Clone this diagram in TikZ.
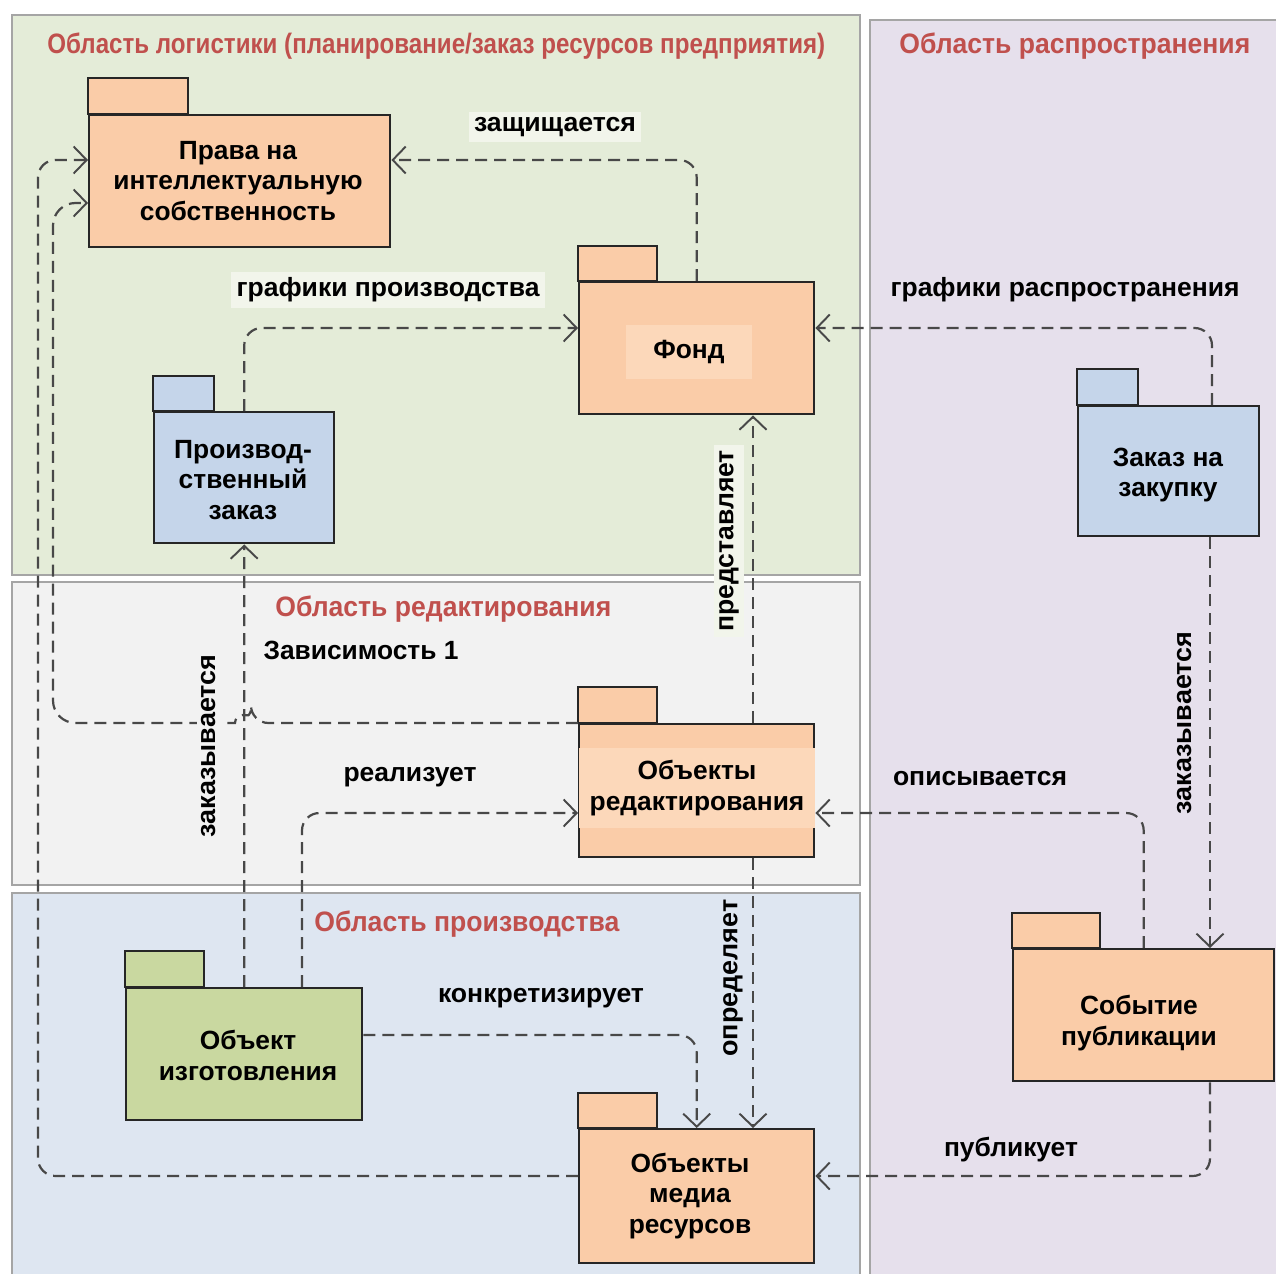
\documentclass[tikz,border=0pt]{standalone}
\usepackage{fontspec}
\setmainfont{Liberation Sans}
\usepackage{graphicx}
\usetikzlibrary{arrows.meta,calc}
\definecolor{logbg}{RGB}{228,236,216}
\definecolor{edbg}{RGB}{242,242,242}
\definecolor{prbg}{RGB}{222,230,241}
\definecolor{dsbg}{RGB}{230,224,236}
\definecolor{regline}{RGB}{165,165,165}
\definecolor{pkgor}{RGB}{250,204,168}
\definecolor{pkgorlt}{RGB}{252,216,186}
\definecolor{pkgbl}{RGB}{197,213,234}
\definecolor{pkggr}{RGB}{201,216,160}
\definecolor{titlered}{RGB}{192,80,77}
\definecolor{depc}{RGB}{72,72,72}
\newcommand\fitw[2]{\resizebox{#1}{\height}{#2}}
\begin{document}
\begin{tikzpicture}[x=0.02cm,y=-0.02cm,
  region/.style={draw=regline,line width=1.4pt},
  pkg/.style={draw=black!85,line width=1.4pt,anchor=north west,inner sep=0pt},
  tabbox/.style={draw=black!85,line width=1.4pt},
  ptext/.style={align=center,font=\bfseries\fontsize{15}{17.6}\selectfont,inner sep=1pt},
  title/.style={text=titlered,font=\bfseries\fontsize{16}{18}\selectfont,inner sep=0pt,anchor=west},
  lbl/.style={font=\bfseries\fontsize{15}{17}\selectfont,inner sep=3pt},
  depline/.style={draw=depc,line width=1.25pt,dash pattern=on 0.24cm off 0.14cm,rounded corners=0.35cm,
    -{Straight Barb[length=2.6mm,width=5.4mm,line width=1.1pt]}},
]
\clip (0,0) rectangle (1276,1274);
\fill[white] (0,0) rectangle (1276,1274);
% regions
\filldraw[region,fill=logbg] (12,15) rectangle (860,575);
\filldraw[region,fill=edbg] (12,582) rectangle (860,885);
\filldraw[region,fill=prbg] (12,893) rectangle (860,1300);
\filldraw[region,fill=dsbg] (870,20) rectangle (1300,1300);
\node[title] (tlog) at (47,46) {\fitw{15.56cm}{Область логистики (планирование/заказ ресурсов предприятия)}};
\node[title] (tdis) at (899,46) {\fitw{7.02cm}{Область распространения}};
\node[title] (ted) at (275,609) {\fitw{6.72cm}{Область редактирования}};
\node[title] (tpr) at (314,924) {\fitw{6.10cm}{Область производства}};
% packages
\node[pkg,fill=pkgor,minimum width=6.02cm,minimum height=2.64cm] (ip) at (88,114) {};
\draw[tabbox,fill=pkgor] (ip.north west) rectangle ++(100,-36);
\node[ptext] (ipT) at (238,181) {Права на\\интеллектуальную\\собственность};

\node[pkg,fill=pkgor,minimum width=4.70cm,minimum height=2.64cm] (fund) at (578,281) {};
\draw[tabbox,fill=pkgor] (fund.north west) rectangle ++(79,-35);
\node[ptext,fill=pkgorlt,minimum width=2.52cm,minimum height=1.08cm] (fundT) at (689,352) {Фонд};

\node[pkg,fill=pkgbl,minimum width=3.60cm,minimum height=2.62cm] (po) at (153,411) {};
\draw[tabbox,fill=pkgbl] (po.north west) rectangle ++(61,-35);
\node[ptext] (poT) at (243,480) {Производ-\\ственный\\заказ};

\node[pkg,fill=pkgbl,minimum width=3.62cm,minimum height=2.60cm] (pur) at (1077,405) {};
\draw[tabbox,fill=pkgbl] (pur.north west) rectangle ++(61,-36);
\node[ptext] (purT) at (1168,475) {Заказ на\\закупку};

\node[pkg,fill=pkgor,minimum width=4.70cm,minimum height=2.66cm] (ed) at (578,723) {};
\draw[tabbox,fill=pkgor] (ed.north west) rectangle ++(79,-36);
\node[ptext,fill=pkgorlt,minimum width=4.72cm,minimum height=1.62cm] (edT) at (697,788) {Объекты\\редактирования};

\node[pkg,fill=pkggr,minimum width=4.72cm,minimum height=2.64cm] (mo) at (125,987) {};
\draw[tabbox,fill=pkggr] (mo.north west) rectangle ++(79,-36);
\node[ptext] (moT) at (248,1055) {Объект\\изготовления};

\node[pkg,fill=pkgor,minimum width=5.22cm,minimum height=2.64cm] (pe) at (1012,948) {};
\draw[tabbox,fill=pkgor] (pe.north west) rectangle ++(88,-35);
\node[ptext] (peT) at (1139,1023) {Событие\\публикации};

\node[pkg,fill=pkgor,minimum width=4.70cm,minimum height=2.68cm] (media) at (578,1128) {};
\draw[tabbox,fill=pkgor] (media.north west) rectangle ++(79,-35);
\node[ptext] (mediaT) at (690,1196) {Объекты\\медиа\\ресурсов};

% connectors
\draw[depline] (fund.north) |- ($(ip.north east)+(0,46)$);
\draw[depline] (po.north) |- ($(fund.north west)+(0,47)$);
\draw[depline] ($(pur.north west)+(135,0)$) |- ($(fund.north east)+(0,47)$);
\draw[depline] ($(ed.north west)+(175,0)$) -- ($(fund.south west)+(175,0)$);
\draw[depline] (mo.north) -- (po.south);
\draw[depline] ($(mo.north west)+(177,0)$) |- ($(ed.north west)+(0,90)$);
\draw[depline] (pe.north) |- ($(ed.north east)+(0,90)$);
\draw[depline] ($(pur.south west)+(133,0)$) -- ($(pe.north west)+(198,0)$);
\draw[depline] ($(ed.south west)+(175,0)$) -- ($(media.north west)+(175,0)$);
\draw[depline] ($(mo.north east)+(0,48)$) -| (media.north);
\draw[depline] ($(pe.south west)+(198,0)$) |- ($(media.north east)+(0,48)$);
\draw[depline] (ed.north west) -- (251,723) [sharp corners] arc (0:-180:8) [rounded corners=0.45cm] -- (53,723) -- (53,203) -- ($(ip.north west)+(0,89)$);
\draw[depline] ($(media.north west)+(0,48)$) -- (38,1176) -- (38,160) -- ($(ip.north west)+(0,46)$);

% labels
\node[lbl,fill=logbg!50!white] (l1) at (555,127) {\fitw{3.24cm}{защищается}};
\node[lbl,fill=logbg!50!white] (l2) at (388,290) {\fitw{6.06cm}{графики производства}};
\node[lbl,fill=dsbg] (l3) at (1065,290) {\fitw{6.98cm}{графики распространения}};
\node[lbl,fill=logbg!50!white,rotate=90] (l4) at (729,541) {\fitw{3.64cm}{представляет}};
\node[lbl,fill=edbg] (l5) at (361,650) {\fitw{3.90cm}{Зависимость 1}};
\node[lbl,fill=edbg] (l6) at (410,777) {\fitw{2.66cm}{реализует}};
\node[lbl,fill=dsbg] (l7) at (980,779) {\fitw{3.48cm}{описывается}};
\node[lbl,fill=edbg,rotate=90] (l8) at (209,746) {\fitw{3.66cm}{заказывается}};
\node[lbl,fill=dsbg,rotate=90] (l9) at (1185,723) {\fitw{3.66cm}{заказывается}};
\node[lbl,fill=prbg] (l10) at (541,998) {\fitw{4.12cm}{конкретизирует}};
\node[lbl,fill=prbg,rotate=90] (l11) at (733,978) {\fitw{3.14cm}{определяет}};
\node[lbl,fill=dsbg] (l12) at (1011,1150) {\fitw{2.68cm}{публикует}};
\end{tikzpicture}
\end{document}
